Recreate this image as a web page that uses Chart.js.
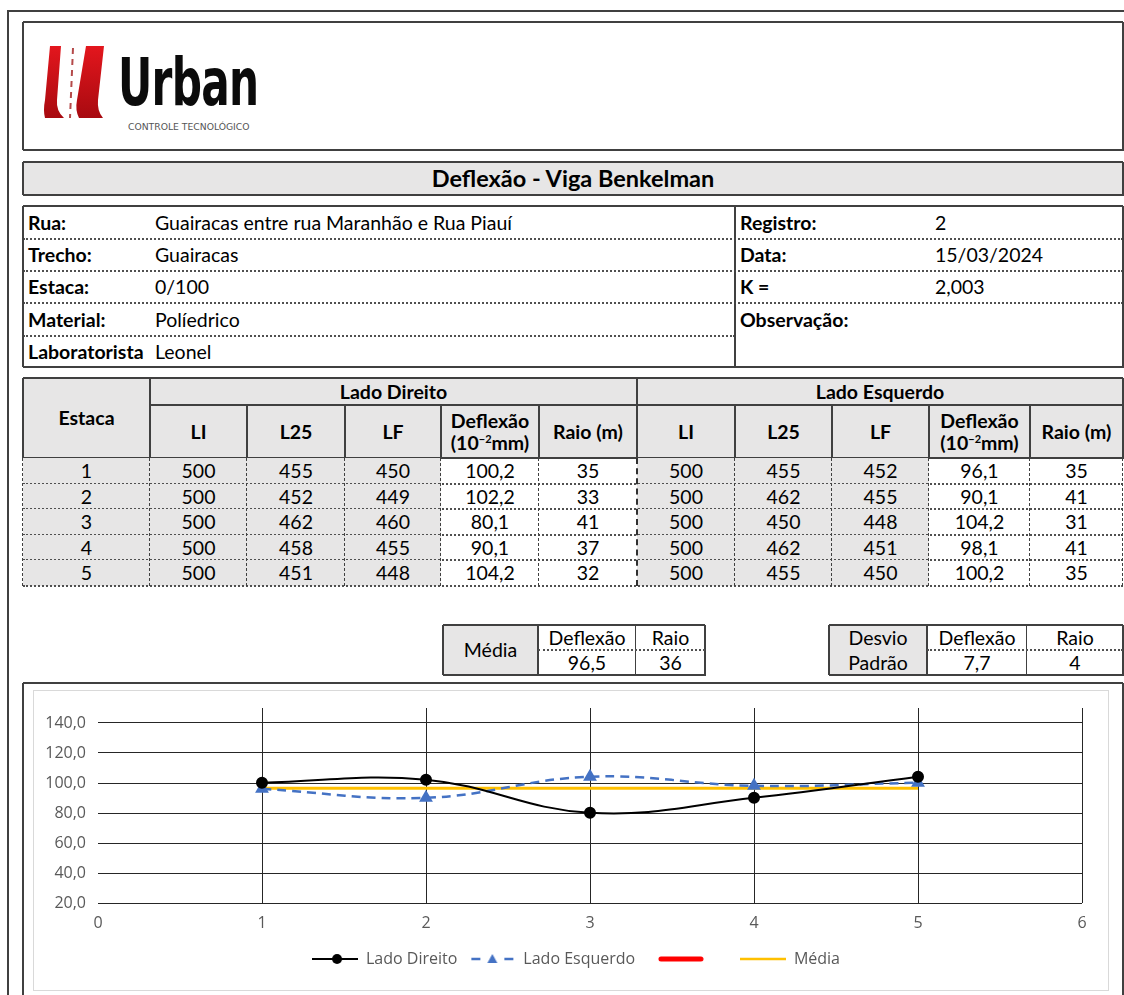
<!DOCTYPE html>
<html>
<head>
<meta charset="utf-8">
<title>Deflexão - Viga Benkelman</title>
<script src="https://cdn.jsdelivr.net/npm/chart.js"></script>
<style>
body{margin:0;background:#fff;font-family:Lato,"Noto Sans",sans-serif;color:#000;}
#page{position:relative;width:1124px;height:995px;overflow:hidden;background:#fff;}
.c{position:absolute;box-sizing:border-box;display:flex;align-items:center;justify-content:center;font-size:19.5px;line-height:1.1;text-align:center;white-space:nowrap;}
.l{justify-content:flex-start;padding-left:5px;text-align:left;}
.b{font-weight:bold;}
.g{background:#e7e6e6;}
.ln{position:absolute;box-sizing:border-box;}
sup{font-size:11px;line-height:0;}
#urban{position:absolute;left:118px;top:44px;font-family:"DejaVu Sans Condensed","DejaVu Sans",sans-serif;font-weight:bold;font-size:66px;letter-spacing:-1px;transform-origin:0 0;color:#0b0b0b;}
#sub{position:absolute;left:128px;top:122px;font-family:"DejaVu Sans Condensed","DejaVu Sans",sans-serif;font-size:9px;color:#555;transform-origin:0 0;}
#chartbox{position:absolute;left:34px;top:691px;}
</style>
</head>
<body>
<div id="page">
  <svg style="position:absolute;left:0;top:0" width="120" height="130">
    <defs>
      <linearGradient id="rg" x1="0" y1="0" x2="0" y2="1">
        <stop offset="0" stop-color="#e3161d"/>
        <stop offset="1" stop-color="#a80a10"/>
      </linearGradient>
    </defs>
    <path d="M50,46 L61,46 L57,100 Q56,111 64,118 L45,118 Q43,110 45,100 Z" fill="url(#rg)"/>
    <path d="M86,46 L104,46 L98,100 Q97,111 103,118 L79,118 Q75,110 77,100 Z" fill="url(#rg)"/>
    <line x1="73" y1="48" x2="70" y2="118" stroke="#b54a4a" stroke-width="2" stroke-dasharray="6 5"/>
  </svg>
  <div id="urban">Urban</div>
  <div id="sub">CONTROLE TECNOLÓGICO</div>
</div>
<script>
// ---- dados do ensaio ----
var estacas = [1, 2, 3, 4, 5];

var ldLI  = [500, 500, 500, 500, 500];
var ldL25 = [455, 452, 462, 458, 451];
var ldLF  = [450, 449, 460, 455, 448];
var deflexaoDireito = [100.2, 102.2, 80.1, 90.1, 104.2];
var raioDireito = [35, 33, 41, 37, 32];

var leLI  = [500, 500, 500, 500, 500];
var leL25 = [455, 462, 450, 462, 455];
var leLF  = [452, 455, 448, 451, 450];
var deflexaoEsquerdo = [96.1, 90.1, 104.2, 98.1, 100.2];
var raioEsquerdo = [35, 41, 31, 41, 35];

var mediaDeflexao = 96.5, mediaRaio = 36;
var desvioDeflexao = 7.7, desvioRaio = 4;

var infoLabels = ["Rua:", "Trecho:", "Estaca:", "Material:", "Laboratorista"];
var infoValues = ["Guairacas entre rua Maranhão e Rua Piauí", "Guairacas", "0/100", "Políedrico", "Leonel"];
var infoLabels2 = ["Registro:", "Data:", "K =", "Observação:"];
var infoValues2 = ["2", "15/03/2024", "2,003", ""];

var xTicks = [0, 1, 2, 3, 4, 5, 6];
var yTicks = [20, 40, 60, 80, 100, 120, 140];

function fmt(v, d) { return v.toFixed(d).replace(".", ","); }

var page = document.getElementById("page");

function cell(x1, y1, x2, y2, html, cls) {
  var d = document.createElement("div");
  d.className = "c " + (cls || "");
  d.style.left = x1 + "px"; d.style.top = y1 + "px";
  d.style.width = (x2 - x1) + "px"; d.style.height = (y2 - y1) + "px";
  d.innerHTML = "<span>" + html + "</span>";
  page.appendChild(d);
  return d;
}
function hline(x1, x2, y, st) {
  var d = document.createElement("div");
  d.className = "ln";
  d.style.left = x1 + "px"; d.style.top = (y - 1) + "px"; d.style.width = (x2 - x1) + "px";
  d.style.borderTop = st; page.appendChild(d);
}
function vline(x, y1, y2, st) {
  var d = document.createElement("div");
  d.className = "ln";
  d.style.left = (x - 1) + "px"; d.style.top = y1 + "px"; d.style.height = (y2 - y1) + "px";
  d.style.borderLeft = st; page.appendChild(d);
}
function rect(x1, y1, x2, y2, st) {
  hline(x1, x2, y1, st); hline(x1, x2 + 1, y2, st);
  vline(x1, y1, y2, st); vline(x2, y1, y2, st);
}
var SOLID = "2px solid #404040", THIN = "1px solid #404040";
var DOT = "2px dotted #505050", DASH = "1px dashed #404040";

// moldura da página
hline(7, 1124, 11, SOLID);
vline(8, 10, 995, SOLID);

// logo
rect(23, 22, 1123, 150, SOLID);
var u = document.getElementById("urban");
u.style.transform = "scaleX(" + (140 / u.offsetWidth) + ")";
var s = document.getElementById("sub");
s.style.transform = "scaleX(" + (122 / s.offsetWidth) + ")";

// título
cell(23, 162, 1123, 195, "Deflexão - Viga Benkelman", "b g").style.fontSize = "23.5px";
rect(23, 162, 1123, 195, SOLID);

// informações
var infoRows = [206, 239, 271, 303, 336, 367];
for (var i = 0; i < 5; i++) {
  cell(23, infoRows[i], 150, infoRows[i + 1], infoLabels[i], "l b");
  cell(150, infoRows[i], 735, infoRows[i + 1], infoValues[i], "l");
}
for (i = 0; i < 4; i++) {
  var yb = i == 3 ? infoRows[4] : infoRows[i + 1];
  cell(735, infoRows[i], 930, yb, infoLabels2[i], "l b");
  cell(930, infoRows[i], 1123, yb, infoValues2[i], "l");
}
for (i = 1; i < 4; i++) hline(23, 1123, infoRows[i], DOT);
hline(23, 735, infoRows[4], DOT);
rect(23, 206, 1123, 367, SOLID);
vline(735, 206, 367, SOLID);

// tabela de leituras
var colX = [23, 150, 247, 345, 441, 539, 637, 735, 832, 929, 1030, 1123];
var heads = ["LI", "L25", "LF", "Deflexão<br>(10<sup>−2</sup>mm)", "Raio (m)"];
cell(23, 378, 150, 458, "Estaca", "b g");
cell(150, 378, 637, 405, "Lado Direito", "b g");
cell(637, 378, 1123, 405, "Lado Esquerdo", "b g");
for (i = 0; i < 10; i++) cell(colX[i + 1], 405, colX[i + 2], 458, heads[i % 5], "b g");
rect(23, 378, 1123, 458, SOLID);
hline(150, 1123, 405, SOLID);
vline(150, 378, 458, SOLID); vline(637, 378, 458, SOLID);
for (i = 2; i < 11; i++) if (i != 6) vline(colX[i], 405, 458, SOLID);

var rowY = [458, 484, 509, 535, 560, 586];
for (var r = 0; r < estacas.length; r++) {
  var vals = [estacas[r], ldLI[r], ldL25[r], ldLF[r], fmt(deflexaoDireito[r], 1), raioDireito[r],
              leLI[r], leL25[r], leLF[r], fmt(deflexaoEsquerdo[r], 1), raioEsquerdo[r]];
  for (var c = 0; c < 11; c++) {
    var white = (c == 4 || c == 5 || c == 9 || c == 10);
    cell(colX[c], rowY[r], colX[c + 1], rowY[r + 1], vals[c], white ? "" : "g");
  }
  hline(23, 1123, rowY[r + 1], DOT);
}
for (i = 0; i < 12; i++) vline(colX[i], 458, 586, i == 6 ? "2px dashed #303030" : DASH);

// média e desvio padrão
cell(443, 625, 538, 675, "Média", "g");
cell(538, 625, 636, 650, "Deflexão");
cell(636, 625, 705, 650, "Raio");
cell(538, 650, 636, 675, fmt(mediaDeflexao, 1));
cell(636, 650, 705, 675, mediaRaio);
rect(443, 625, 705, 675, SOLID);
vline(538, 625, 675, SOLID); vline(636, 625, 675, THIN);
hline(538, 705, 650, DOT);

cell(829, 625, 927, 675, "Desvio<br>Padrão", "g").style.lineHeight = "25px";
cell(927, 625, 1027, 650, "Deflexão");
cell(1027, 625, 1123, 650, "Raio");
cell(927, 650, 1027, 675, fmt(desvioDeflexao, 1));
cell(1027, 650, 1123, 675, desvioRaio);
rect(829, 625, 1123, 675, SOLID);
vline(927, 625, 675, SOLID); vline(1027, 625, 675, THIN);
hline(927, 1123, 650, DOT);

// caixa do gráfico
rect(23, 683, 1123, 1000, SOLID);
var inner = document.createElement("div");
inner.className = "ln";
inner.style.cssText = "left:33px;top:690px;width:1076px;height:301px;border:1px solid #d9d9d9;";
page.appendChild(inner);

var box = document.createElement("div");
box.id = "chartbox";
box.innerHTML = '<canvas id="grafico" width="1073" height="298"></canvas>';
page.appendChild(box);

// ícones da legenda
function legendIcon(kind) {
  var cv = document.createElement("canvas");
  cv.width = 46; cv.height = 14;
  var g = cv.getContext("2d");
  var m = 7;
  if (kind == 0) {
    g.strokeStyle = "#000"; g.lineWidth = 2;
    g.beginPath(); g.moveTo(0, m); g.lineTo(46, m); g.stroke();
    g.fillStyle = "#000"; g.beginPath(); g.arc(25, m, 5, 0, Math.PI * 2); g.fill();
  } else if (kind == 1) {
    g.strokeStyle = "#4472C4"; g.lineWidth = 2.5;
    g.beginPath(); g.moveTo(2, m); g.lineTo(11, m); g.moveTo(35, m); g.lineTo(44, m); g.stroke();
    g.fillStyle = "#4472C4"; g.beginPath(); g.moveTo(23, 2); g.lineTo(28, 11); g.lineTo(18, 11); g.closePath(); g.fill();
  } else if (kind == 2) {
    g.strokeStyle = "#FF0000"; g.lineWidth = 5; g.lineCap = "round";
    g.beginPath(); g.moveTo(3, m); g.lineTo(43, m); g.stroke();
  } else {
    g.strokeStyle = "#FFC000"; g.lineWidth = 2.5;
    g.beginPath(); g.moveTo(0, m); g.lineTo(46, m); g.stroke();
  }
  return cv;
}

var pontosDireito = estacas.map(function (x, i) { return { x: x, y: deflexaoDireito[i] }; });
var pontosEsquerdo = estacas.map(function (x, i) { return { x: x, y: deflexaoEsquerdo[i] }; });
var pontosMedia = [{ x: estacas[0], y: mediaDeflexao }, { x: estacas[estacas.length - 1], y: mediaDeflexao }];

// espaços finos reproduzem o espaçamento da legenda do Excel
var legendNames = ["Lado Direito", "Lado Esquerdo\u2002\u2009", "\u2002\u2002", "Média"];
var chartFont = "'Open Sans', sans-serif";

// a legenda do Excel fica um pouco à direita do centro do canvas
var legendShift = {
  id: "legendShift",
  afterLayout: function (chart) { chart.legend.left += 18; chart.legend.right += 18; }
};

new Chart(document.getElementById("grafico").getContext("2d"), {
  type: "scatter",
  data: {
    datasets: [
      { label: "Lado Direito", data: pontosDireito, showLine: true, borderColor: "#000", backgroundColor: "#000",
        borderWidth: 2, pointRadius: 5, pointStyle: "circle", tension: 0.4 },
      { label: "Lado Esquerdo", data: pontosEsquerdo, showLine: true, borderColor: "#4472C4", backgroundColor: "#4472C4",
        borderWidth: 2.5, borderDash: [9, 6], pointRadius: 5.5, pointStyle: "triangle", tension: 0.4 },
      { label: "", data: [], showLine: true, borderColor: "#FF0000", borderWidth: 4, pointRadius: 0 },
      { label: "Média", data: pontosMedia, showLine: true, borderColor: "#FFC000", borderWidth: 3, pointRadius: 0 }
    ]
  },
  options: {
    responsive: false,
    animation: false,
    layout: { padding: { left: 0, right: 25, top: 17, bottom: 12 } },
    scales: {
      x: {
        type: "linear", min: 0, max: 6,
        afterBuildTicks: function (sc) { sc.ticks = xTicks.map(function (v) { return { value: v }; }); },
        afterFit: function (sc) { sc.height = 36; },
        ticks: { color: "#595959", font: { size: 16, family: chartFont }, padding: 11 },
        grid: { drawTicks: false, color: function (c) { return c.tick && c.tick.value === 0 ? "rgba(0,0,0,0)" : "#262626"; } },
        border: { display: false }
      },
      y: {
        min: 20, max: 150,
        afterBuildTicks: function (sc) { sc.ticks = yTicks.map(function (v) { return { value: v }; }); },
        afterFit: function (sc) { sc.width = 64; sc.paddingTop = 0; sc.paddingBottom = 0; },
        ticks: { color: "#595959", font: { size: 16, family: chartFont }, padding: 12,
                 callback: function (v) { return fmt(v, 1); } },
        grid: { drawTicks: false, color: "#262626" },
        border: { display: false }
      }
    },
    plugins: {
      tooltip: { enabled: false },
      legend: {
        position: "bottom",
        labels: {
          usePointStyle: true, pointStyleWidth: 46, padding: 12, color: "#595959",
          font: { size: 16, family: chartFont },
          generateLabels: function (chart) {
            return legendNames.map(function (n, i) {
              return { text: n, pointStyle: legendIcon(i), datasetIndex: i, hidden: false,
                       fillStyle: "rgba(0,0,0,0)", strokeStyle: "rgba(0,0,0,0)", lineWidth: 0, fontColor: "#595959" };
            });
          }
        }
      }
    }
  },
  plugins: [legendShift]
});
</script>
</body>
</html>
